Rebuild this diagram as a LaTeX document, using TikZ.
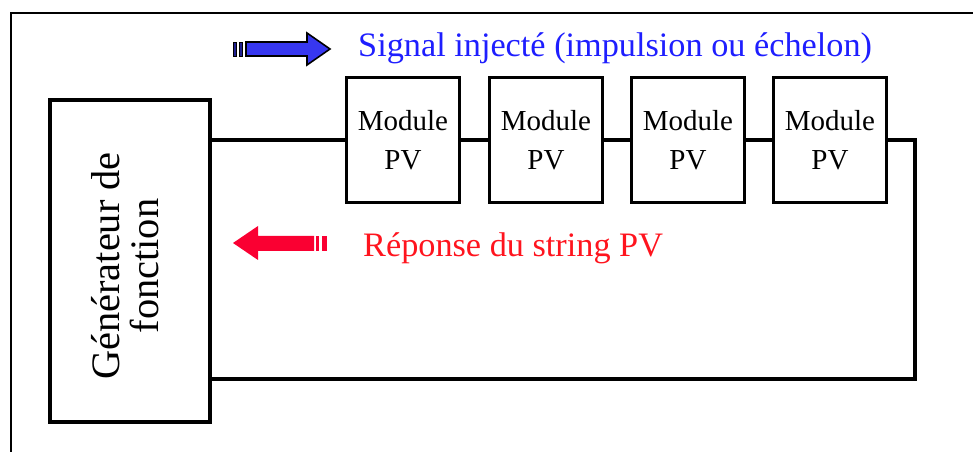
\documentclass[tikz,border=0pt]{standalone}
\usepackage{fontspec}
\setmainfont{Liberation Serif}
\usepackage{tikz}
\usetikzlibrary{positioning}

\definecolor{sigblue}{RGB}{30,30,255}
\definecolor{arrblue}{RGB}{55,55,240}
\definecolor{repred}{RGB}{255,20,30}
\definecolor{arrred}{RGB}{250,0,50}

\tikzset{
    wire/.style={line width=1.8pt},
    module/.style={draw, line width=1.7pt, minimum width=2.26cm, minimum height=2.5cm,
        align=center, inner sep=0pt, font=\fontsize{16.5}{22.5}\selectfont},
    genbox/.style={draw, line width=2pt, minimum width=3.2cm, minimum height=6.44cm},
    legend/.style={anchor=base west, font=\fontsize{19.5}{24}\selectfont}
}

\begin{document}
\begin{tikzpicture}[x=0.02cm, y=-0.02cm]
        \useasboundingbox (0,0) rectangle (973,452);
        \draw[line width=1.1pt] (11,452) -- (11,13) -- (973,13);

        \node[genbox] (gen) at (130,261) {};
        \node[rotate=90, align=center, font=\fontsize{23}{22}\selectfont] (gentext) at (125,266) {Générateur de\\fonction};

        \foreach \i/\x in {1/403,2/546,3/688,4/830}
            \node[module] (m\i) at (\x,140) {Module\\PV};

        \coordinate (rtop) at (915,140);
        \coordinate (rbot) at (915,379);

        \draw[wire] (gen.east |- m1.west) -- (m1.west);
        \draw[wire] (m1.east) -- (m2.west);
        \draw[wire] (m2.east) -- (m3.west);
        \draw[wire] (m3.east) -- (m4.west);
        \draw[wire] (m4.east) -- (rtop) -- (rbot) -- (gen.east |- rbot);

        \filldraw[fill=arrblue, draw=black, line width=0.9pt] (246,42) -- (307,42) -- (307,33) -- (330,49) -- (307,65) -- (307,56) -- (246,56) -- cycle;
        \filldraw[fill=arrblue!60!black, draw=black, line width=0.5pt] (233,42) rectangle (236,56);
        \filldraw[fill=arrblue!60!black, draw=black, line width=0.5pt] (239,42) rectangle (242,56);
        \node[legend, text=sigblue] (signal) at (352,57) {Signal injecté (impulsion ou échelon)};

        \fill[arrred] (233,243) -- (258,226) -- (258,236) -- (314,236) -- (314,251) -- (258,251) -- (258,260) -- cycle;
        \fill[arrred] (316,236) rectangle (319,251);
        \fill[arrred] (322,236) rectangle (327,251);
        \node[legend, text=repred] (reponse) at (357,257) {Réponse du string PV};
    \end{tikzpicture}
\end{document}
